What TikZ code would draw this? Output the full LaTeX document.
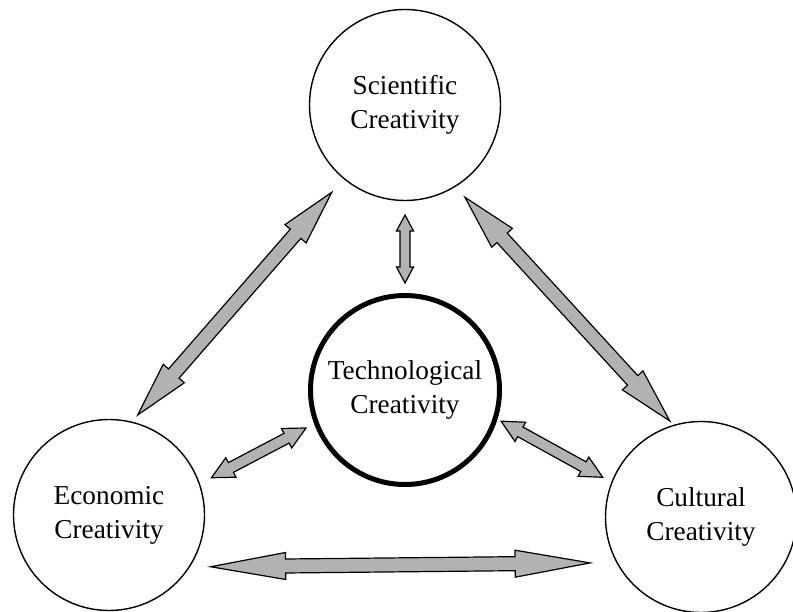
\documentclass[tikz,border=0pt]{standalone}
\usepackage{fontspec}
\setmainfont{Liberation Serif}
\usepackage{tikz}
\usetikzlibrary{calc,positioning}

% block arrow with two heads: from, to, half shaft, half head, head length
\newcommand{\fatarrow}[5]{%
  \path (#1) coordinate (fa-s) (#2) coordinate (fa-t);
  \draw[blockarrow] (fa-s)
    -- ($(fa-s)!#5!(fa-t)!#4!90:(fa-t)$)
    -- ($(fa-s)!#5!(fa-t)!#3!90:(fa-t)$)
    -- ($(fa-t)!#5!(fa-s)!#3!-90:(fa-s)$)
    -- ($(fa-t)!#5!(fa-s)!#4!-90:(fa-s)$)
    -- (fa-t)
    -- ($(fa-t)!#5!(fa-s)!#4!90:(fa-s)$)
    -- ($(fa-t)!#5!(fa-s)!#3!90:(fa-s)$)
    -- ($(fa-s)!#5!(fa-t)!#3!-90:(fa-t)$)
    -- ($(fa-s)!#5!(fa-t)!#4!-90:(fa-t)$)
    -- cycle;
}

\tikzset{
  area/.style={circle,draw,line width=1.4pt,minimum size=191pt,inner sep=0pt,
    align=center,font=\fontsize{27.3}{34}\selectfont},
  core/.style={area,line width=5pt,minimum size=189pt},
  blockarrow/.style={draw=black,fill=black!30,line width=1.2pt,line join=miter}
}

\begin{document}
\begin{tikzpicture}[x=1pt,y=1pt,node distance=285pt]
  \useasboundingbox (0,0) rectangle (793,611);

  \node[area] (sci) at (405,506) {Scientific\\Creativity};
  \node[core,below of=sci] (tech) {Technological\\Creativity};
  \node[area] (eco) at (109,96) {Economic\\Creativity};
  \node[area] (cult) at (701,94) {Cultural\\Creativity};

  % outer triangle
  \fatarrow{$(sci)+(230:114pt)$}{$(eco)+(74:104pt)$}{7pt}{14pt}{55pt}
  \fatarrow{$(sci)+(303:110pt)$}{$(cult)+(108:101pt)$}{7pt}{14pt}{55pt}
  \fatarrow{$(eco)+(333:114pt)$}{$(cult)+(202.5:120pt)$}{7pt}{13.5pt}{75pt}

  % spokes to the centre
  \fatarrow{$(sci)+(270:110pt)$}{$(tech)+(90:107pt)$}{5pt}{8.5pt}{16pt}
  \fatarrow{$(tech)+(201:106pt)$}{$(eco)+(20:109pt)$}{5.5pt}{11pt}{22pt}
  \fatarrow{$(tech)+(342:101pt)$}{$(cult)+(158:106pt)$}{5.5pt}{11pt}{22pt}
\end{tikzpicture}
\end{document}
